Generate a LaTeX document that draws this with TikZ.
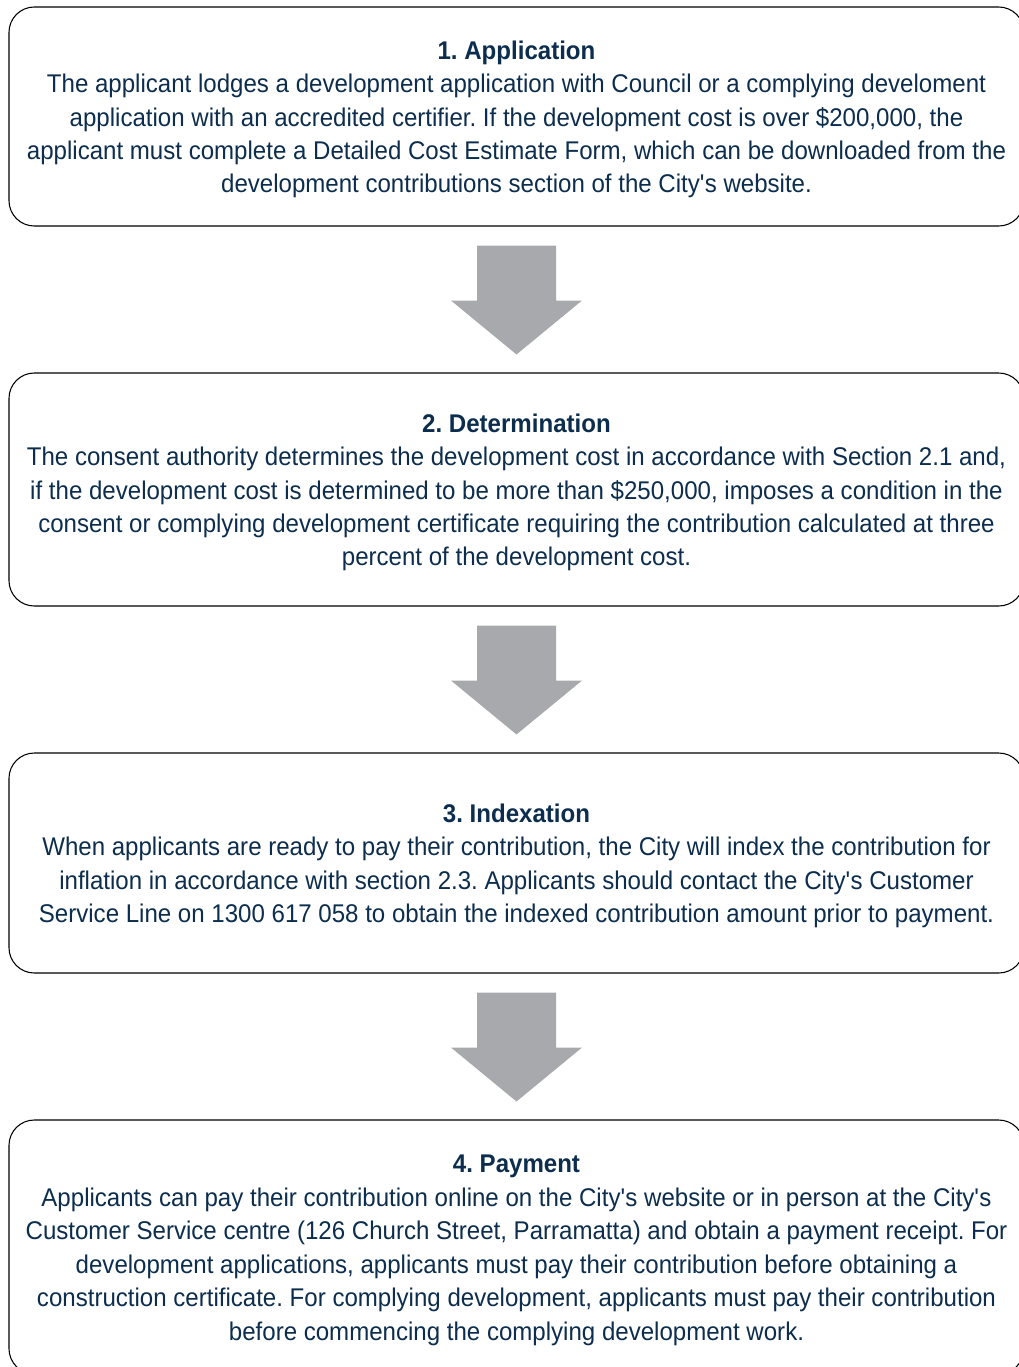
\documentclass[tikz,border=0pt]{standalone}
\usepackage{fontspec}
\setmainfont{Liberation Sans}[FakeStretch=0.94]
\usetikzlibrary{calc}
\definecolor{navytext}{RGB}{12,45,77}
\definecolor{arrowgray}{RGB}{167,169,172}
\tikzstyle{stage}=[rectangle, rounded corners=19pt, draw=black, line width=0.8pt, fill=white, minimum width=1015*0.75pt, inner sep=0pt, anchor=center, align=center, text=navytext, font=\fontsize{19.2pt}{25.1pt}\selectfont\frenchspacing]
\tikzstyle{blockfill}=[fill=arrowgray, draw=none]
\newcommand{\stagetitle}[1]{\rule{0pt}{18.3pt}\textbf{#1}}
\newcommand{\blockarrow}[2]
{
  \fill[blockfill] ($(#1.south)+(-39.5,19)$) -- ($(#1.south)+(39.5,19)$) -- ($(#1.south)+(39.5,74)$) -- ($(#1.south)+(65.5,74)$)
    -- ($(#2.north)+(0,-18)$) -- ($(#1.south)+(-65.5,74)$) -- ($(#1.south)+(-39.5,74)$) -- cycle;
}

\begin{document}
\begin{tikzpicture}[x=0.75pt, y=-0.75pt]
	\useasboundingbox (0,0) rectangle (1018,1367);

	\node[stage, minimum height=219*0.75pt](application) at (516.5,116.5){\stagetitle{1. Application}\\The applicant lodges a development application with Council or a complying develoment\\application with an accredited certifier. If the development cost is over \$200,000, the\\applicant must complete a Detailed Cost Estimate Form, which can be downloaded from the\\development contributions section of the City\textquotesingle s website.};
	\node[stage, minimum height=233*0.75pt](determination) at (516.5,489.5){\stagetitle{2. Determination}\\The consent authority determines the development cost in accordance with Section 2.1 and,\\if the development cost is determined to be more than \$250,000, imposes a condition in the\\consent or complying development certificate requiring the contribution calculated at three\\percent of the development cost.};
	\node[stage, minimum height=220*0.75pt](indexation) at (516.5,863){\stagetitle{3. Indexation}\\When applicants are ready to pay their contribution, the City will index the contribution for\\inflation in accordance with section 2.3. Applicants should contact the City\textquotesingle s Customer\\Service Line on 1300 617 058 to obtain the indexed contribution amount prior to payment.};
	\node[stage, minimum height=254*0.75pt](payment) at (516.5,1247){\stagetitle{4. Payment}\\Applicants can pay their contribution online on the City\textquotesingle s website or in person at the City\textquotesingle s\\Customer Service centre (126 Church Street, Parramatta) and obtain a payment receipt. For\\development applications, applicants must pay their contribution before obtaining a\\construction certificate. For complying development, applicants must pay their contribution\\before commencing the complying development work.};

	\blockarrow{application}{determination}
	\blockarrow{determination}{indexation}
	\blockarrow{indexation}{payment}

\end{tikzpicture}
\end{document}
